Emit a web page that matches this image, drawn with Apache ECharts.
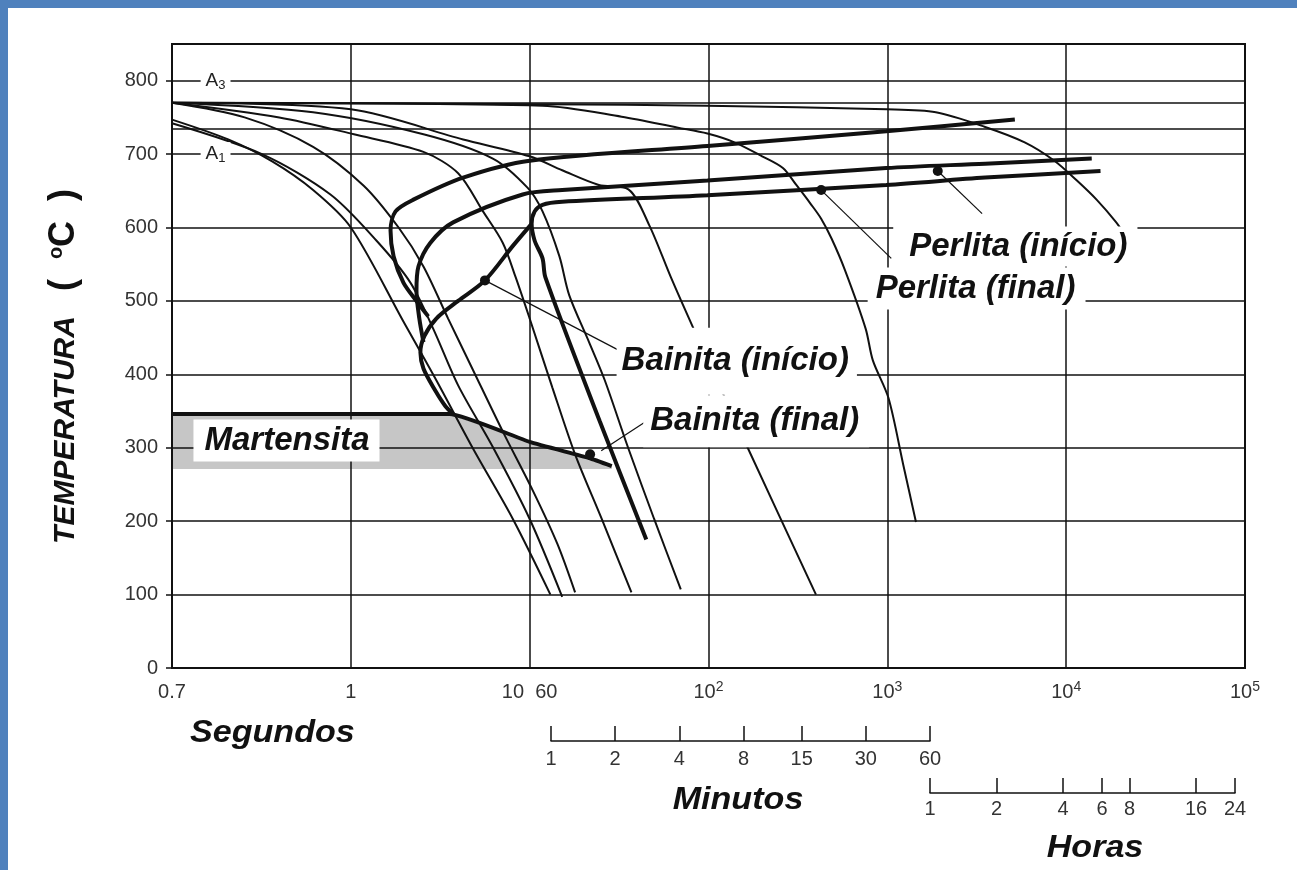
<!DOCTYPE html>
<html><head><meta charset="utf-8">
<script src="https://cdn.jsdelivr.net/npm/echarts@6/dist/echarts.min.js"></script>
<style>html,body{margin:0;padding:0;background:#fff;}#c{width:1297px;height:870px;}</style>
</head><body><div id="c"></div>
<script>
// x = log10(time, s) in decades ; y = temperature (°C)
const xTickLabels = ['0.7', '1', '10  60', '10{s|2}', '10{s|3}', '10{s|4}', '10{s|5}'];
const yTickValues = [0, 100, 200, 300, 400, 500, 600, 700, 800];
const extraTempLines = [770, 735];
const minuteTicks = [1, 2, 4, 8, 15, 30, 60];
const hourTicks = [1, 2, 4, 6, 8, 16, 24];

// thin cooling curves
const cool1 = [[-1,747],[-0.686,720],[-0.44,690],[-0.211,651],[0,600],[0.294,472],[0.478,392],[0.683,299],[0.906,203],[1.116,100]];
const cool2 = [[-1,742],[-0.497,700],[-0.114,645],[0.144,582],[0.333,525],[0.461,462],[0.6,385],[0.794,301],[1.0,203],[1.182,97]];
const cool3 = [[-1,770],[-0.594,750],[-0.211,710],[0.072,657],[0.267,600],[0.406,547],[0.544,476],[0.683,406],[0.85,322],[1.017,242],[1.155,169],[1.254,103]];
const cool4 = [[-1,770],[-0.4,750],[0.017,727],[0.406,703],[0.6,674],[0.739,622],[0.85,579],[0.922,532],[1.0,476],[1.127,382],[1.254,291],[1.403,203],[1.569,103]];
const cool5 = [[-1,770],[-0.211,757],[0.406,727],[0.794,694],[0.989,654],[1.072,622],[1.166,561],[1.221,508],[1.332,444],[1.42,392],[1.552,299],[1.696,203],[1.845,107]];
const cool6 = [[-1,770],[0,761],[0.628,720],[1.0,697],[1.182,678],[1.387,658],[1.552,652],[1.669,603],[1.79,532],[1.917,462],[2.225,297],[2.601,100]];
const cool7 = [[-1,770],[1.072,766],[1.514,751],[1.829,736],[1.994,728],[2.145,716],[2.3,697],[2.416,681],[2.491,658],[2.572,632],[2.63,612],[2.688,585],[2.763,542],[2.879,462],[2.919,419],[3.006,368],[3.088,278],[3.16,199]];
const cool8 = [[-1,770],[1.072,768],[1.994,766],[2.994,761],[3.271,757],[3.547,737],[3.768,716],[3.934,691],[4.06,664],[4.17,638],[4.28,607],[4.33,589]];

// thick transformation lines
const pearliteOuter = [[3.713,747],[2.994,731],[1.994,711],[1.0,691],[0.628,668],[0.35,638],[0.25,622],[0.222,596],[0.239,561],[0.294,525],[0.367,500],[0.433,479]];
const pearliteStart = [[4.143,694],[3.547,687],[2.994,681],[1.994,664],[1.182,651],[0.961,645],[0.572,607],[0.444,579],[0.378,547],[0.367,514],[0.383,476],[0.406,444]];
const pearliteEnd = [[4.192,677],[3.547,668],[2.994,658],[1.994,644],[1.182,635],[1.072,631],[1.028,622],[1.011,605],[1.028,582],[1.072,558],[1.088,532],[1.392,336],[1.652,175]];
const bainiteStart = [[1.011,605],[0.906,575],[0.75,528],[0.6,500],[0.478,476],[0.411,452],[0.389,430],[0.406,408],[0.472,378],[0.528,357],[0.572,346]];
const msLine = [[-1,346],[0.55,346],[1.0,308],[1.332,286],[1.459,275]];
const msBandBottom = 271;

// marker dots and pointer lines
const dots = [[0.75,528],[1.338,291],[3.282,677],[2.63,651]];
const pointers = [
  [[0.75,528],[1.497,433]],
  [[1.40,296],[1.652,336]],
  [[3.282,677],[3.53,619]],
  [[2.63,651],[3.022,558]]
];

// annotations
const annotationTexts = ['Perlita (início)', 'Perlita (final)', 'Bainita (início)', 'Bainita (final)', 'Martensita'];
const annotationAnchors = [[3.033,574],[2.890,517],[1.486,418],[1.635,336],[-0.88,310]];
const criticalTexts = ['{a|A}{s|3}', '{a|A}{s|1}'];
const criticalAnchors = [[-0.84,800],[-0.84,700]];

const FONT = '"Liberation Sans", Arial, Helvetica, sans-serif';
const INK = '#111';
const annotationPads = [[3,10,3,16],[4,10,4,8],[11,8,22,5],[8,10,10,7],[4,10,4,11]];

const chart = echarts.init(document.getElementById('c'));

function line(data, width, smooth) {
  return {type:'line', data, smooth: smooth, showSymbol:false, symbol:'none',
    lineStyle:{color:INK, width}, z:2, silent:true};
}

const bandPoly = msLine.concat([[msLine[msLine.length-1][0], msBandBottom], [-1, msBandBottom]]);

const series = [
  {type:'custom', coordinateSystem:'cartesian2d', xAxisIndex:0, yAxisIndex:0, data:[0], z:-1, silent:true,
    renderItem: function(params, api) {
      return {type:'polygon', shape:{points: bandPoly.map(p => api.coord(p))}, style:{fill:'#c6c6c6'}};
    }},
  {type:'line', data:[], markLine:{silent:true, symbol:'none', label:{show:false},
    lineStyle:{color:INK, width:1.5, type:'solid'}, data: extraTempLines.map(v => ({yAxis:v}))}},
];
[cool1,cool2,cool3,cool4,cool5,cool6,cool7,cool8].forEach(c => series.push(line(c, 2, 0.3)));
[pearliteOuter, pearliteStart, pearliteEnd, bainiteStart].forEach(c => series.push(line(c, 4, 0.3)));
series.push(line(msLine, 4, 0.15));
pointers.forEach(p => series.push(line(p, 1.2, false)));
series.push({type:'scatter', data:dots, symbolSize:10, itemStyle:{color:INK, opacity:1}, z:4, silent:true});
series.push({type:'scatter', symbolSize:0, z:8, silent:true, itemStyle:{opacity:1},
  data: annotationTexts.map((t,i) => ({name:t, value:annotationAnchors[i], label:{padding:annotationPads[i]}})),
  label:{show:true, position:'right', distance:0, formatter:'{b}', fontFamily:FONT, fontSize:33,
    fontStyle:'italic', fontWeight:'bold', color:INK, backgroundColor:'#fff', lineHeight:34}});
series.push({type:'scatter', symbolSize:0, z:8, silent:true, itemStyle:{opacity:1},
  data: criticalTexts.map((t,i) => ({name:t, value:criticalAnchors[i]})),
  label:{show:true, position:'right', distance:0, formatter:'{b}', backgroundColor:'#fff', padding:[1,5,1,5],
    rich:{a:{fontFamily:FONT, fontSize:19, color:'#222', lineHeight:22},
          s:{fontFamily:FONT, fontSize:13, color:'#222', lineHeight:12, verticalAlign:'bottom'}}}});

const labelStyle = {fontFamily:FONT, fontSize:20, color:'#333'};

chart.setOption({
  animation:false,
  backgroundColor:'#fff',
  grid:[
    {left:172, top:44, width:1073, height:624, show:true, borderColor:INK, borderWidth:2, backgroundColor:'transparent'},
    {left:551, top:740, width:379, height:1},
    {left:930, top:792, width:305, height:1}
  ],
  xAxis:[
    {gridIndex:0, type:'value', min:-1, max:5, interval:1,
      axisLine:{onZero:false, lineStyle:{color:INK, width:2}}, axisTick:{show:false},
      splitLine:{show:true, lineStyle:{color:INK, width:1.5}},
      axisLabel:Object.assign({margin:12, lineHeight:24, formatter: v => xTickLabels[Math.round(v)+1],
        rich:{s:{fontFamily:FONT, fontSize:14, color:'#333', lineHeight:12, verticalAlign:'top'}}}, labelStyle)},
    {gridIndex:1, type:'value', min:0, max:Math.log2(minuteTicks[minuteTicks.length-1]),
      axisLine:{onZero:false, lineStyle:{color:INK, width:1.5}},
      axisTick:{inside:true, length:15, lineStyle:{color:INK, width:1.5}, customValues: minuteTicks.map(Math.log2)},
      splitLine:{show:false},
      axisLabel:Object.assign({margin:8, customValues: minuteTicks.map(Math.log2),
        formatter: v => String(minuteTicks.reduce((a,b) => Math.abs(Math.log2(b)-v) < Math.abs(Math.log2(a)-v) ? b : a))}, labelStyle)},
    {gridIndex:2, type:'value', min:0, max:Math.log2(hourTicks[hourTicks.length-1]),
      axisLine:{onZero:false, lineStyle:{color:INK, width:1.5}},
      axisTick:{inside:true, length:15, lineStyle:{color:INK, width:1.5}, customValues: hourTicks.map(Math.log2)},
      splitLine:{show:false},
      axisLabel:Object.assign({margin:6, customValues: hourTicks.map(Math.log2),
        formatter: v => String(hourTicks.reduce((a,b) => Math.abs(Math.log2(b)-v) < Math.abs(Math.log2(a)-v) ? b : a))}, labelStyle)}
  ],
  yAxis:[
    {gridIndex:0, type:'value', min:0, max:850, interval:100,
      axisLine:{onZero:false, lineStyle:{color:INK, width:2}},
      axisTick:{show:true, length:6, lineStyle:{color:INK, width:1.5}, customValues: yTickValues},
      splitLine:{show:true, lineStyle:{color:INK, width:1.5}},
      axisLabel:Object.assign({margin:14, customValues: yTickValues, formatter: v => String(v)}, labelStyle)},
    {gridIndex:1, type:'value', show:false},
    {gridIndex:2, type:'value', show:false}
  ],
  series: series,
  graphic:[
    {type:'rect', shape:{x:0, y:0, width:1297, height:8}, style:{fill:'#4f81bd'}, z:100},
    {type:'rect', shape:{x:0, y:0, width:8, height:870}, style:{fill:'#4f81bd'}, z:100},
    {type:'text', x:190, y:733, scaleX:1.1, style:{text:'Segundos', font:'italic bold 31px ' + FONT, fill:INK, textAlign:'left', textVerticalAlign:'middle'}},
    {type:'text', x:738, y:800, scaleX:1.1, style:{text:'Minutos', font:'italic bold 31px ' + FONT, fill:INK, textAlign:'center', textVerticalAlign:'middle'}},
    {type:'text', x:1095, y:848, scaleX:1.1, style:{text:'Horas', font:'italic bold 31px ' + FONT, fill:INK, textAlign:'center', textVerticalAlign:'middle'}},
    {type:'text', x:66, y:430, rotation:Math.PI/2, style:{text:'TEMPERATURA', font:'italic bold 30px ' + FONT, fill:INK, textAlign:'center', textVerticalAlign:'middle'}},
    {type:'text', x:64, y:240, rotation:Math.PI/2, style:{text:'(  {o|o}C  )', font:'bold 36px ' + FONT, fill:INK, textAlign:'center', textVerticalAlign:'middle',
      rich:{o:{font:'bold 20px ' + FONT, fill:INK, verticalAlign:'top', lineHeight:18}}}}
  ]
});
</script>
</body></html>
